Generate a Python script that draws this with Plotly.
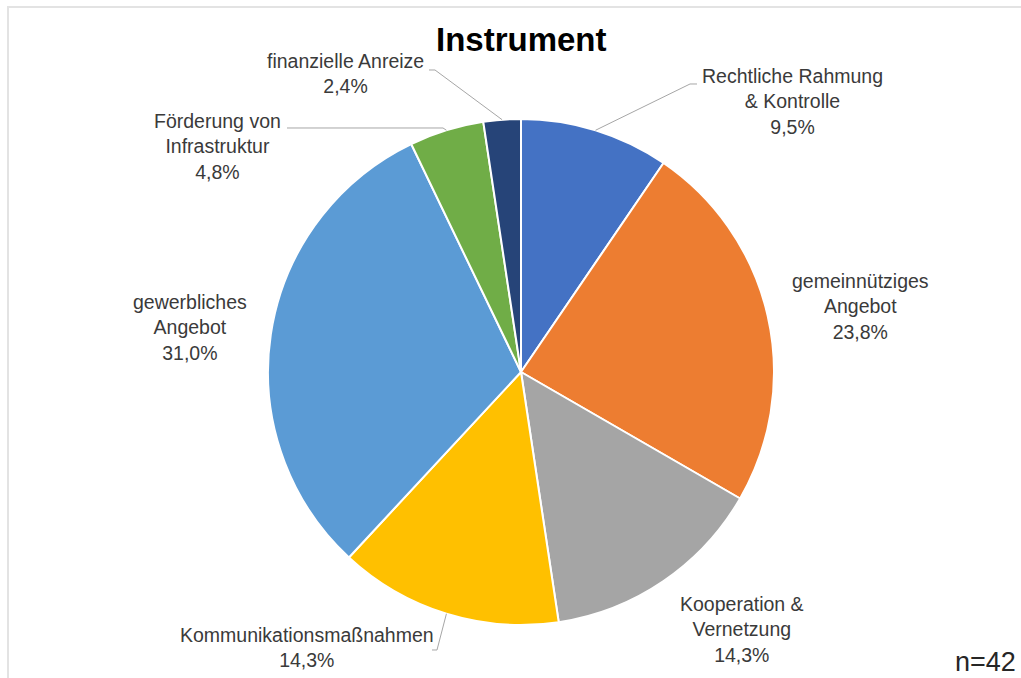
import math
import plotly.graph_objects as go

# ---- data ----
categories = [
    "Rechtliche Rahmung<br>& Kontrolle",
    "gemeinnütziges<br>Angebot",
    "Kooperation &<br>Vernetzung",
    "Kommunikationsmaßnahmen",
    "gewerbliches<br>Angebot",
    "Förderung von<br>Infrastruktur",
    "finanzielle Anreize",
]
counts = [4, 10, 6, 6, 13, 2, 1]
colors = ["#4472C4", "#ED7D31", "#A5A5A5", "#FFC000", "#5B9BD5", "#70AD47", "#264478"]
title_text = "Instrument"
n_text = "n=42"

# ---- layout constants (pixels) ----
W, H = 1021, 678
CX, CY, R = 521, 372, 253
FONT = "Liberation Sans, Arial, sans-serif"
TXT = "#3A3A3A"

def px(x):
    return x / W

def py(y):
    return 1 - y / H

total = sum(counts)
pcts = [c / total * 100 for c in counts]
pct_labels = [f"{p:.1f}".replace(".", ",") + "%" for p in pcts]

fig = go.Figure(go.Pie(
    labels=[c.replace("<br>", " ") for c in categories],
    values=counts,
    sort=False,
    direction="clockwise",
    rotation=0,
    marker=dict(colors=colors, line=dict(color="white", width=2)),
    textinfo="none",
    hoverinfo="skip",
    showlegend=False,
    domain=dict(x=[px(CX - R), px(CX + R)], y=[py(CY + R), py(CY - R)]),
))

# mid-angle edge points computed from data
edges = []
cum = 0
for c in counts:
    mid = (cum + c / 2) / total * 2 * math.pi
    edges.append((CX + R * math.sin(mid), CY - R * math.cos(mid)))
    cum += c

# label block centres (pixels) and leader-line routes
label_pos = [(792, 101), (860, 306), (742, 629), (307, 647), (190, 327), (217, 146), (345, 74)]
leaders = {
    0: [(690, 84), (697, 84)],
    3: [(437, 650), (432, 650)],
    5: [(443, 128), (287, 128)],
    6: [(435, 70), (429, 70)],
}

annotations = []
for i, (cat, pl) in enumerate(zip(categories, pct_labels)):
    x, y = label_pos[i]
    annotations.append(dict(
        x=px(x), y=py(y), xref="paper", yref="paper",
        text=f"{cat}<br>{pl}", showarrow=False,
        xanchor="center", yanchor="middle", align="center",
        font=dict(family=FONT, size=19.5, color=TXT),
    ))

annotations.append(dict(
    x=px(521), y=py(40), xref="paper", yref="paper", text=f"<b>{title_text}</b>",
    showarrow=False, xanchor="center", yanchor="middle",
    font=dict(family=FONT, size=33, color="#000000"),
))
annotations.append(dict(
    x=px(1018), y=py(662), xref="paper", yref="paper", text=n_text,
    showarrow=False, xanchor="right", yanchor="middle",
    font=dict(family=FONT, size=27, color="#262626"),
))

shapes = []
for i, route in leaders.items():
    pts = [edges[i]] + route
    path = "M " + " L ".join(f"{px(a):.5f},{py(b):.5f}" for a, b in pts)
    shapes.append(dict(type="path", path=path, xref="paper", yref="paper",
                       line=dict(color="#A6A6A6", width=1)))

# chart frame
shapes.append(dict(type="path", xref="paper", yref="paper",
                   path=f"M {px(8)},{py(H)} L {px(8)},{py(7)} L {px(W)},{py(7)}",
                   line=dict(color="#E3E3E3", width=2)))

fig.update_layout(
    width=W, height=H,
    margin=dict(l=0, r=0, t=0, b=0),
    paper_bgcolor="white",
    plot_bgcolor="white",
    annotations=annotations,
    shapes=shapes,
)

fig.write_html("out.html")
